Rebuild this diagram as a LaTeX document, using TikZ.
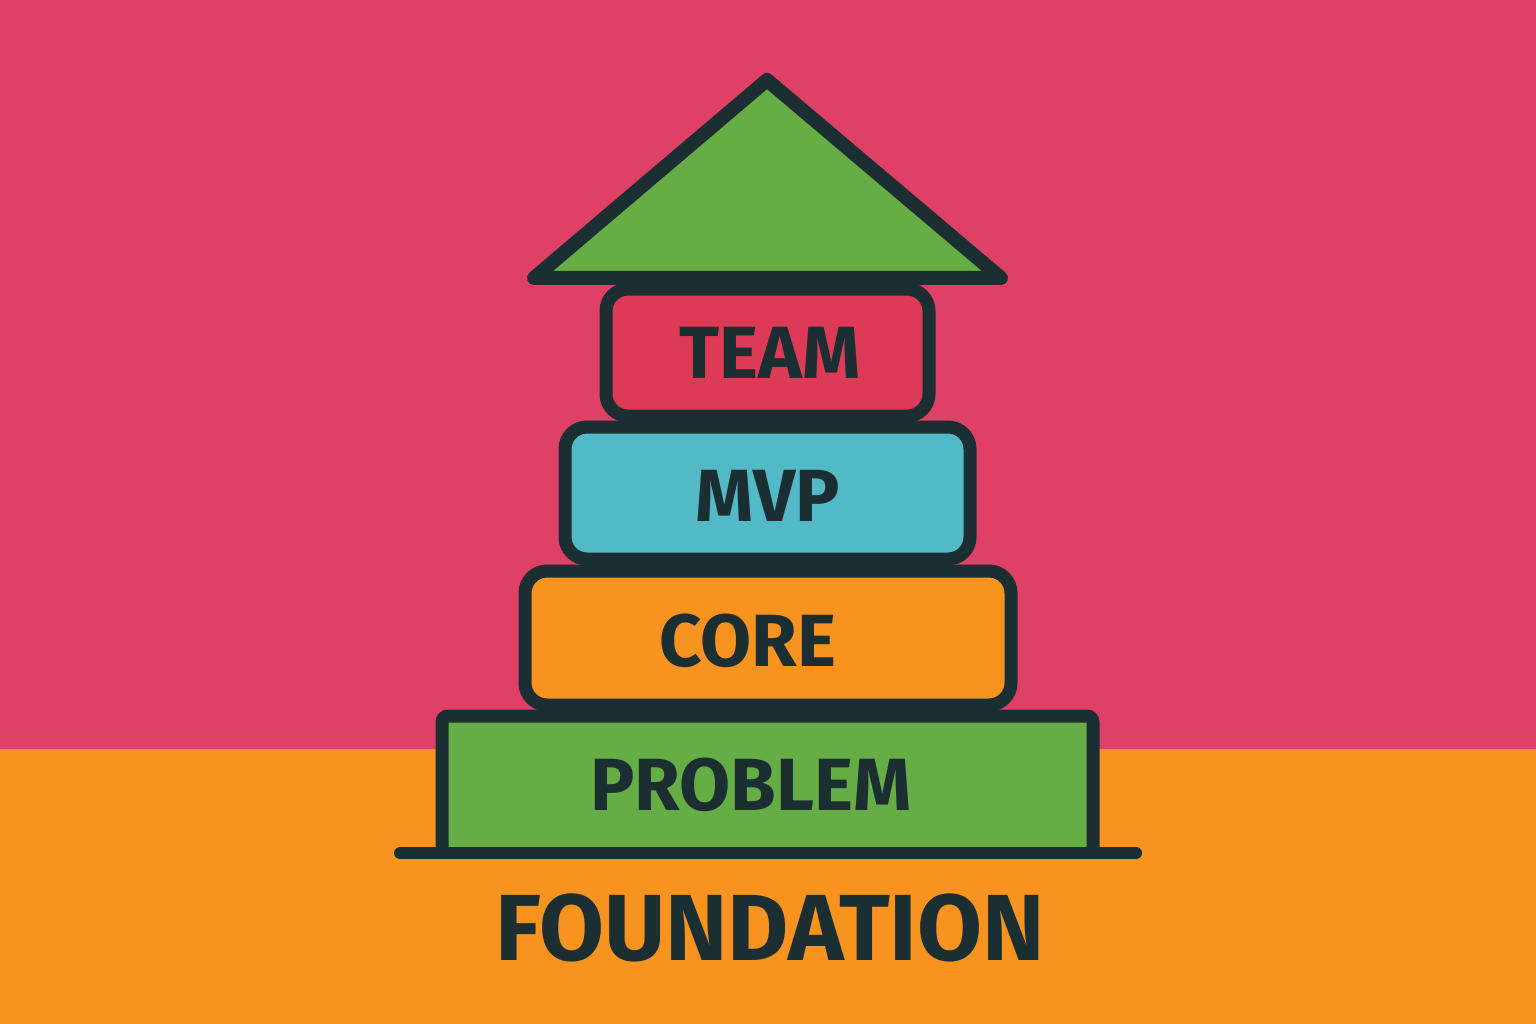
\documentclass[tikz,border=0pt]{standalone}
\usepackage{fontspec}
\setmainfont{Fira Sans}
\definecolor{bgpink}{HTML}{DE4165}
\definecolor{bgorange}{HTML}{F7931E}
\definecolor{ink}{HTML}{1B2F33}
\definecolor{leafgreen}{HTML}{67AD45}
\definecolor{skyblue}{HTML}{52B9C7}
\definecolor{teamred}{HTML}{DC3A55}
\begin{document}
\begin{tikzpicture}[x=1pt,y=-1pt,
  blockbox/.style={draw=ink,line width=13pt,rounded corners=22pt,inner sep=0pt},
  lbl/.style={text=ink,font=\bfseries\fontsize{74}{74}\selectfont,inner sep=0pt,anchor=center}]
\useasboundingbox (0,0) rectangle (1536,1024);
\fill[bgpink] (0,0) rectangle (1536,749);
\fill[bgorange] (0,749) rectangle (1536,1024);
% arrow head
\coordinate (apex) at (767,80);
\coordinate (bl) at (534,278);
\coordinate (br) at (1001,278);
\filldraw[fill=leafgreen,draw=ink,line width=14pt,line join=round] (apex) -- (br) -- (bl) -- cycle;
% problem block
\coordinate (gl) at (400,853);
\coordinate (gr) at (1136,853);
\coordinate (p1) at (442,853);
\coordinate (p2) at (442,716);
\coordinate (p3) at (1093,716);
\coordinate (p4) at (1093,853);
\filldraw[fill=leafgreen,draw=ink,line width=13pt,rounded corners=6pt] (p1) -- (p2) -- (p3) -- (p4);
\draw[ink,line width=12pt,line cap=round] (gl) -- (gr);
% stacked blocks
\node[blockbox,fill=bgorange,minimum width=486pt,minimum height=134pt] (core) at (768,638) {};
\node[blockbox,fill=skyblue,minimum width=405pt,minimum height=132pt] (mvp) at (767.5,493) {};
\node[blockbox,fill=teamred,minimum width=323pt,minimum height=127pt] (team) at (767.5,352.5) {};
% labels
\node[lbl] (tteam) at (770,353) {TEAM};
\node[lbl] (tmvp) at (768,496) {MVP};
\node[lbl] (tcore) at (748,641) {CORE};
\node[lbl] (tprob) at (751,785) {PROBLEM};
\node[lbl,font=\bfseries\fontsize{94}{94}\selectfont] (tfound) at (770,928) {FOUNDATION};
\end{tikzpicture}
\end{document}
